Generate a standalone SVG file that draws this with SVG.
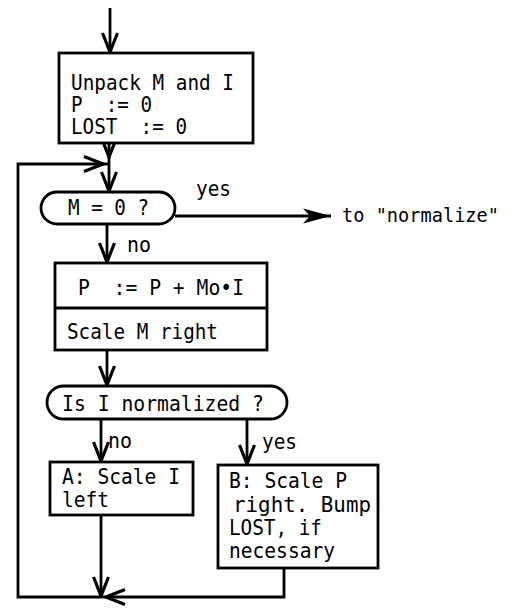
<svg xmlns="http://www.w3.org/2000/svg" width="511" height="609" viewBox="0 0 511 609">
<defs>
<marker id="v" markerUnits="userSpaceOnUse" viewBox="-20 -10 22 20" refX="0" refY="0" markerWidth="22" markerHeight="20" orient="auto">
<path d="M-19,-7.5 L0,0 L-19,7.5" fill="none" stroke="#000" stroke-width="3.2" stroke-linejoin="miter"/>
</marker>
<marker id="f" markerUnits="userSpaceOnUse" viewBox="-30 -10 32 20" refX="0" refY="0" markerWidth="32" markerHeight="20" orient="auto">
<path d="M-28,-7.5 L0,0 L-28,7.5 L-21,0 Z" fill="#000"/>
</marker>
<style>
.b{fill:#fff;stroke:#000;stroke-width:2.8}
.c{fill:none;stroke:#000;stroke-width:2.8}
text{font-family:"DejaVu Sans Mono","Liberation Mono",monospace;font-size:21px;fill:#000}
text.s{font-size:19px}
</style>
</defs>
<rect width="511" height="609" fill="#fff"/>
<g id="connectors">
<path class="c" d="M110,8 V52" marker-end="url(#v)"/>
<path class="c" d="M109,143 V157" marker-end="url(#v)"/>
<path class="c" d="M109,157 V191" marker-end="url(#v)"/>
<path class="c" d="M101,597 H18 V164 H103" marker-end="url(#v)"/>
<path class="c" d="M103,164 H109"/>
<path class="c" d="M175,216 H331" marker-end="url(#f)"/>
<path class="c" d="M107,224 V262" marker-end="url(#v)"/>
<path class="c" d="M107,350 V385" marker-end="url(#v)"/>
<path class="c" d="M101,419 V461" marker-end="url(#v)"/>
<path class="c" d="M247,419 V464" marker-end="url(#v)"/>
<path class="c" d="M101,515 V596" marker-end="url(#v)"/>
<path class="c" d="M284,568 V597 H106" marker-end="url(#v)"/>
<path class="c" d="M106,597 H101"/>
</g>
<g id="init">
<rect class="b" x="59" y="53" width="194" height="90"/>
<text x="71" y="90" xml:space="preserve" textLength="163" lengthAdjust="spacingAndGlyphs">Unpack M and I</text>
<text x="71" y="112" xml:space="preserve" textLength="81" lengthAdjust="spacingAndGlyphs">P  := 0</text>
<text x="71" y="134" xml:space="preserve" textLength="116" lengthAdjust="spacingAndGlyphs">LOST  := 0</text>
</g>
<g id="test-m">
<rect class="b" x="41" y="192" width="134" height="32" rx="16"/>
<text x="68" y="215" textLength="81" lengthAdjust="spacingAndGlyphs">M = 0 ?</text>
</g>
<g id="labels-m">
<text x="196" y="196" textLength="35" lengthAdjust="spacingAndGlyphs">yes</text>
<text class="s" x="342" y="222" textLength="157" lengthAdjust="spacingAndGlyphs">to "normalize"</text>
<text x="127" y="252" textLength="24" lengthAdjust="spacingAndGlyphs">no</text>
</g>
<g id="accumulate">
<rect class="b" x="55" y="263" width="212" height="87"/>
<line class="c" x1="55" y1="308" x2="267" y2="308"/>
<text x="78" y="295" xml:space="preserve" textLength="166" lengthAdjust="spacingAndGlyphs">P  := P + Mo•I</text>
<text x="67" y="339" textLength="151" lengthAdjust="spacingAndGlyphs">Scale M right</text>
</g>
<g id="test-i">
<rect class="b" x="47" y="386" width="240" height="33" rx="16.5"/>
<text x="62" y="411" textLength="202" lengthAdjust="spacingAndGlyphs">Is I normalized ?</text>
</g>
<g id="labels-i">
<text x="108" y="448" textLength="24" lengthAdjust="spacingAndGlyphs">no</text>
<text x="262" y="449" textLength="35" lengthAdjust="spacingAndGlyphs">yes</text>
</g>
<g id="scale-i">
<rect class="b" x="50" y="462" width="143" height="53"/>
<text x="62" y="484" textLength="118" lengthAdjust="spacingAndGlyphs">A: Scale I</text>
<text x="62" y="507" textLength="47" lengthAdjust="spacingAndGlyphs">left</text>
</g>
<g id="scale-p">
<rect class="b" x="218" y="465" width="160" height="103"/>
<text x="229" y="488" textLength="118" lengthAdjust="spacingAndGlyphs">B: Scale P</text>
<text x="233" y="512" textLength="138" lengthAdjust="spacingAndGlyphs">right. Bump</text>
<text x="229" y="535" textLength="93" lengthAdjust="spacingAndGlyphs">LOST, if</text>
<text x="229" y="558" textLength="106" lengthAdjust="spacingAndGlyphs">necessary</text>
</g>
</svg>
